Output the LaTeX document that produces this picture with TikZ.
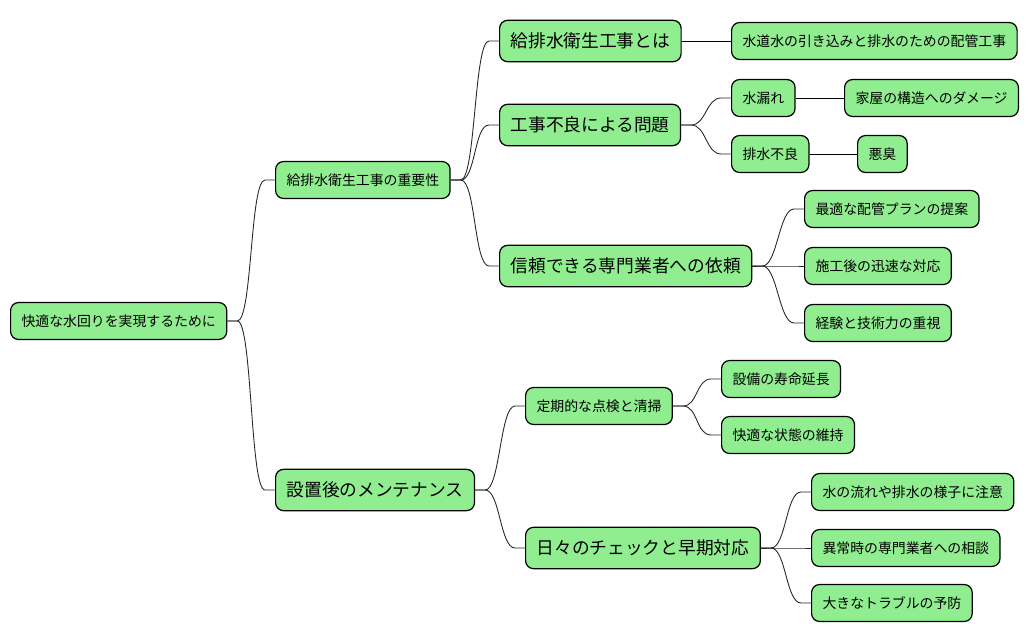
\documentclass[tikz,border=0pt]{standalone}
\usepackage{fontspec}
\newfontfamily\jpfont{Noto Sans CJK JP}
\usetikzlibrary{calc}
\definecolor{boxgreen}{HTML}{90EE90}

\tikzset{
    topic/.style={draw, fill=boxgreen, rounded corners=4.5pt, line width=0.7pt,
        anchor=west, inner xsep=6.2pt, inner ysep=0pt, minimum height=21pt,
        font=\jpfont\fontsize{7.9pt}{9pt}\selectfont},
    bigtopic/.style={topic, minimum height=23.5pt,
        font=\jpfont\fontsize{10.1pt}{12pt}\selectfont},
    branch/.style={draw=black!85, line width=0.5pt,
        to path={-- ++(10,0) .. controls +(15,0) and +(-15,0) .. ($(\tikztotarget)+(-10,0)$) -- (\tikztotarget)}}
}

\begin{document}
\begin{tikzpicture}[x=0.02cm, y=-0.02cm]
                \useasboundingbox (0,0) rectangle (1028,642);

                % Root
                \node [topic] (root) at (10,321) {快適な水回りを実現するために};

                % First level
                \node [topic] (imp) at (275,180) {給排水衛生工事の重要性};
                \node [bigtopic] (maint) at (275,490) {設置後のメンテナンス};

                % Importance
                \node [bigtopic] (what) at (499,41) {給排水衛生工事とは};
                \node [bigtopic] (fault) at (499,125) {工事不良による問題};
                \node [bigtopic] (trust) at (499,266) {信頼できる専門業者への依頼};

                \node [topic] (pipe) at (731,41) {水道水の引き込みと排水のための配管工事};
                \node [topic] (leak) at (731,98) {水漏れ};
                \node [topic] (drain) at (731,154) {排水不良};
                \node [topic] (damage) at (844,98) {家屋の構造へのダメージ};
                \node [topic] (smell) at (857,154) {悪臭};
                \node [topic] (plan) at (804,209) {最適な配管プランの提案};
                \node [topic] (quick) at (804,266) {施工後の迅速な対応};
                \node [topic] (skill) at (804,323) {経験と技術力の重視};

                % Maintenance
                \node [topic] (check) at (525,406) {定期的な点検と清掃};
                \node [bigtopic] (daily) at (525,548) {日々のチェックと早期対応};

                \node [topic] (life) at (721,379) {設備の寿命延長};
                \node [topic] (comfort) at (721,435) {快適な状態の維持};
                \node [topic] (flow) at (811,492) {水の流れや排水の様子に注意};
                \node [topic] (consult) at (811,548) {異常時の専門業者への相談};
                \node [topic] (prevent) at (811,603) {大きなトラブルの予防};

                % Branches
                \draw [branch] (root.east) to (imp.west);
                \draw [branch] (root.east) to (maint.west);
                \draw [branch] (imp.east) to (what.west);
                \draw [branch] (imp.east) to (fault.west);
                \draw [branch] (imp.east) to (trust.west);
                \draw [-] (what.east) -- (pipe.west);
                \draw [branch] (fault.east) to (leak.west);
                \draw [branch] (fault.east) to (drain.west);
                \draw [-] (leak.east) -- (damage.west);
                \draw [-] (drain.east) -- (smell.west);
                \draw [branch] (trust.east) to (plan.west);
                \draw [branch] (trust.east) to (quick.west);
                \draw [branch] (trust.east) to (skill.west);
                \draw [branch] (maint.east) to (check.west);
                \draw [branch] (maint.east) to (daily.west);
                \draw [branch] (check.east) to (life.west);
                \draw [branch] (check.east) to (comfort.west);
                \draw [branch] (daily.east) to (flow.west);
                \draw [branch] (daily.east) to (consult.west);
                \draw [branch] (daily.east) to (prevent.west);
            \end{tikzpicture}
\end{document}
